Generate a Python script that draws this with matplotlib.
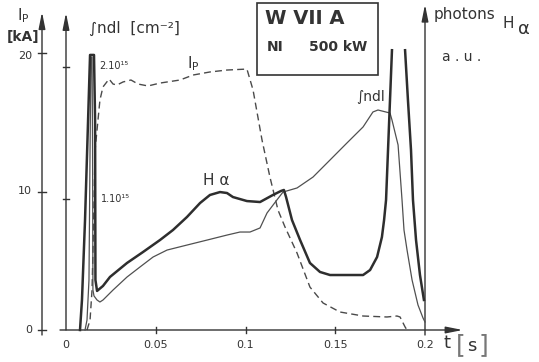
import numpy as np
import matplotlib.pyplot as plt
from matplotlib.patches import Rectangle

# curves, time in s
t_ip = [0.0117, 0.0134, 0.0145, 0.0150, 0.0162, 0.0189, 0.0206, 0.0240, 0.0262, 0.0284,
        0.0318, 0.0362, 0.0401, 0.0457, 0.0524, 0.0635, 0.0708, 0.0802, 0.0897, 0.1008,
        0.1042, 0.1092, 0.1136, 0.1181, 0.1220, 0.1287, 0.1359, 0.1432, 0.1526, 0.1655,
        0.1788, 0.1844, 0.1861, 0.1889, 0.1900]
ip_ka = [0.0, 0.72, 2.89, 5.56, 13.0, 16.6, 17.55, 18.12, 17.76, 17.69,
         17.91, 18.05, 17.76, 17.62, 17.83, 18.05, 18.41, 18.63, 18.77, 18.84,
         17.33, 13.72, 11.05, 8.66, 7.44, 5.56, 3.10, 1.95, 1.30, 1.01,
         0.94, 1.01, 0.94, 0.22, 0.0]

t_ha = [0.0078, 0.0089, 0.0106, 0.0123, 0.0134, 0.0156, 0.0162, 0.0164, 0.0173, 0.0206,
        0.0245, 0.0340, 0.0429, 0.0524, 0.0596, 0.0674, 0.0747, 0.0802, 0.0858, 0.0897,
        0.0930, 0.1008, 0.1081, 0.1153, 0.1198, 0.1214, 0.1226, 0.1259, 0.1304, 0.1359,
        0.1415, 0.1471, 0.1655, 0.1694, 0.1733, 0.1760, 0.1772, 0.1783, 0.1794, 0.1805,
        0.1816, np.nan, 0.1889, 0.1905, 0.1922, 0.1933, 0.1950, 0.1972, 0.1994]
ha_au = [0.0, 2.17, 7.94, 15.16, 19.86, 19.86, 15.16, 3.61, 2.82, 3.18,
         3.83, 4.84, 5.63, 6.50, 7.22, 8.16, 9.17, 9.75, 9.96, 9.89,
         9.60, 9.31, 9.24, 9.75, 10.04, 10.11, 9.60, 7.94, 6.50, 4.84,
         4.19, 3.97, 3.97, 4.33, 5.27, 6.71, 7.94, 9.39, 13.0, 16.6,
         20.2, np.nan, 20.2, 16.6, 13.0, 9.39, 6.50, 3.97, 2.17]

t_ndl = [0.0106, 0.0117, 0.0128, 0.0134, 0.0139, 0.0145, 0.0148, 0.0150, 0.0156, 0.0173,
         0.0189, 0.0206, 0.0223, 0.0262, 0.0340, 0.0412, 0.0485, 0.0563, 0.0674, 0.0786,
         0.0897, 0.0969, 0.1025, 0.1081, 0.1120, 0.1175, 0.1209, 0.1287, 0.1376, 0.1471,
         0.1565, 0.1655, 0.1710, 0.1738, 0.1805, 0.1816, 0.1850, 0.1872, 0.1883, 0.1900,
         0.1928, 0.1961, 0.1989, 0.2000]
ndl_e15 = [0.0, 0.076, 0.380, 1.369, 2.076, 2.076, 1.369, 0.304, 0.259, 0.228,
           0.213, 0.228, 0.251, 0.304, 0.403, 0.479, 0.555, 0.608, 0.646, 0.684,
           0.722, 0.745, 0.745, 0.776, 0.890, 0.989, 1.049, 1.080, 1.163, 1.293,
           1.422, 1.544, 1.658, 1.673, 1.650, 1.597, 1.407, 0.989, 0.760, 0.608,
           0.380, 0.190, 0.091, 0.061]

t_ticks = [0, 0.05, 0.1, 0.15, 0.2]
t_tick_labels = ['0', '0.05', '0.1', '0.15', '0.2']
ip_ticks = [0, 10, 20]
ndl_ticks = [1, 2]
ndl_tick_labels = ['1.10¹⁵', '2.10¹⁵']

ink = '#333333'
W, H = 539, 362
t0_px, px_per_s = 66, 1795.0
y0_px, px_per_ka, px_per_e15 = 330, 13.85, 131.5

fig = plt.figure(figsize=(W / 100, H / 100), dpi=100)
fig.patch.set_facecolor('white')
xlim = (-t0_px / px_per_s, (W - t0_px) / px_per_s)

ax = fig.add_axes([0, 0, 1, 1])
ax.set_xlim(xlim)
ax.set_ylim(-(H - y0_px) / px_per_ka, y0_px / px_per_ka)
ax.axis('off')

ax_n = fig.add_axes([0, 0, 1, 1], sharex=ax)
ax_n.set_ylim(-(H - y0_px) / px_per_e15, y0_px / px_per_e15)
ax_n.axis('off')
ax_n.patch.set_alpha(0)

ax_h = fig.add_axes([0, 0, 1, 1], sharex=ax)
ax_h.set_ylim(ax.get_ylim())
ax_h.axis('off')
ax_h.patch.set_alpha(0)

# curves
ax.plot(t_ip, ip_ka, color='#4a4a4a', lw=1.0, dashes=(5, 3))
ax_n.plot(t_ndl, ndl_e15, color='#505050', lw=0.9)
ax_h.plot(t_ha, ha_au, color='#2e2e2e', lw=1.8)


def arrow_axis(x0, y0, x1, y1):
    ax.annotate('', xy=(x1, y1), xytext=(x0, y0),
                arrowprops=dict(arrowstyle='-|>,head_length=1.0,head_width=0.2',
                                color=ink, lw=1.0, mutation_scale=10,
                                shrinkA=0, shrinkB=0))


ip_x = -24 / px_per_s
px_t = 1 / px_per_s
px_y = 1 / px_per_ka

arrow_axis(ip_x, -5 * px_y, ip_x, 22.96)
arrow_axis(0, 0, 0, 22.9)
arrow_axis(0.2, -5 * px_y, 0.2, 23.5)
arrow_axis(-6 * px_t, 0, 0.221, 0)

for v in ip_ticks:
    ax.plot([ip_x - 4 * px_t, ip_x + 4 * px_t], [v, v], color=ink, lw=1.0)
    ax.annotate(str(v), (ip_x, v), xytext=(-7, -2 if v == 20 else 0), textcoords='offset points',
                ha='right', va='center', fontsize=8, color=ink)

for v in ndl_ticks:
    ax_n.plot([-3 * px_t, 3 * px_t], [v, v], color=ink, lw=1.0)

ax_n.annotate(ndl_tick_labels[1], (0, ndl_ticks[1]), xytext=(24, 1), textcoords='offset points',
              ha='left', va='center', fontsize=7, color=ink)
ax_n.annotate(ndl_tick_labels[0], (0, ndl_ticks[0]), xytext=(25, 0), textcoords='offset points',
              ha='left', va='center', fontsize=7, color=ink)

for t, s in zip(t_ticks, t_tick_labels):
    if 0 < t < 0.2:
        ax.plot([t, t], [-3 * px_y, 3 * px_y], color=ink, lw=1.0)
    ax.annotate(s, (t, 0), xytext=(0, -11), textcoords='offset points',
                ha='center', va='center', fontsize=8, color=ink)


def label(x, y, s, size=10, color=ink, **kw):
    fig.text(x / W, 1 - y / H, s, color=color, fontsize=size, ha=kw.pop('ha', 'center'),
             va=kw.pop('va', 'center'), **kw)


label(23, 16, 'I$_\\mathregular{P}$', 11)
label(23, 37, '[kA]', 10, fontweight='bold')
label(134, 28, '∫ndl  [cm⁻²]', 11)
label(193, 64, 'I$_\\mathregular{P}$', 11)
label(216, 180, 'H α', 11)
label(371, 97, '∫ndl', 10)

fig.add_artist(Rectangle((257 / W, 1 - 75 / H), 121 / W, 72 / H, transform=fig.transFigure,
                         fill=False, edgecolor=ink, lw=1.2))
label(305, 19, 'W VII A', 14, fontweight='bold')
label(275, 47, 'NI', 10, fontweight='bold')
label(338, 47, '500 kW', 10, fontweight='bold')

label(434, 14, 'photons', 11, ha='left')
label(508, 24, 'H', 11)
label(524, 29, 'α', 13)
label(462, 57, 'a . u .', 10)

label(447, 343, 't', 13)
label(461, 345, '[', 18, color='#777777')
label(472, 346, 's', 13)
label(483, 345, ']', 18, color='#777777')

fig.savefig('out.png', dpi=100, facecolor='white')
